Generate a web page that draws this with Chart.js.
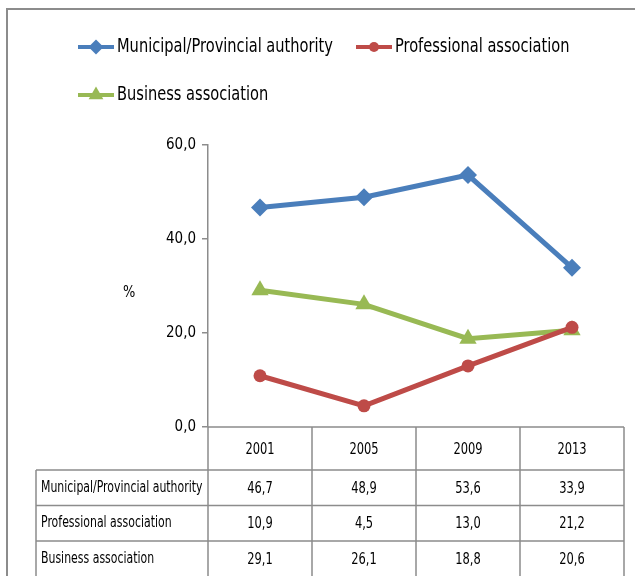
<!DOCTYPE html>
<html>
<head>
<meta charset="utf-8">
<script src="https://cdn.jsdelivr.net/npm/chart.js@4.4.1/dist/chart.umd.min.js"></script>
<style>
  html, body { margin: 0; padding: 0; background: #fff; }
  #wrap { width: 635px; height: 576px; position: relative; }
</style>
</head>
<body>
<div id="wrap"><canvas id="myChart" width="635" height="576"></canvas></div>
<script>
const years = ['2001', '2005', '2009', '2013'];
const municipal = [46.7, 48.9, 53.6, 33.9];
const professional = [10.9, 4.5, 13.0, 21.2];
const business = [29.1, 26.1, 18.8, 20.6];
const yTicks = [0, 20, 40, 60];

const FONT = "'Liberation Sans Narrow', 'DejaVu Sans Condensed', 'Open Sans', sans-serif";
const fmt = v => v.toFixed(1).replace('.', ',');

const series = [
  { label: 'Municipal/Provincial authority', data: municipal, color: '#4A7EBB', style: 'rectRot', r: 9 },
  { label: 'Professional association', data: professional, color: '#BE4B48', style: 'circle', r: 6.5 },
  { label: 'Business association', data: business, color: '#98B954', style: 'triangle', r: 10 }
];

// narrow text, the original uses Calibri
function narrowText(ctx, text, x, y, align, sx) {
  ctx.save();
  ctx.translate(x, y);
  ctx.scale(sx, 1);
  ctx.textAlign = align;
  ctx.fillText(text, 0, 0);
  ctx.restore();
}

// draws legend, frame and the data table under the plot
const extras = {
  id: 'extras',
  afterDraw(chart) {
    const ctx = chart.ctx;
    const area = chart.chartArea;
    const x = chart.scales.x;
    ctx.save();

    // outer frame
    ctx.strokeStyle = '#8c8c8c';
    ctx.lineWidth = 2;
    ctx.beginPath();
    ctx.moveTo(7, 576);
    ctx.lineTo(7, 9);
    ctx.lineTo(635, 9);
    ctx.stroke();

    // legend
    const legendPos = [[78, 47], [356, 47], [78, 95]];
    ctx.font = '19px ' + FONT;
    ctx.textBaseline = 'middle';
    series.forEach((s, i) => {
      const [lx, ly] = legendPos[i];
      ctx.strokeStyle = s.color;
      ctx.lineWidth = 4;
      ctx.beginPath();
      ctx.moveTo(lx, ly);
      ctx.lineTo(lx + 36, ly);
      ctx.stroke();
      ctx.fillStyle = s.color;
      Chart.helpers.drawPoint(ctx, { pointStyle: s.style, radius: s.r - 1.5, borderWidth: 0 }, lx + 18, ly);
      ctx.fillStyle = '#000';
      narrowText(ctx, s.label, lx + 39, ly, 'left', 0.855);
    });

    // axis title
    ctx.font = '16px ' + FONT;
    narrowText(ctx, '%', 123, 293, 'left', 0.9);

    // table
    const step = (area.right - area.left) / years.length;
    const top = area.bottom;
    const headBottom = 470;
    const rowH = 35.5;
    const labelLeft = 36;
    ctx.strokeStyle = '#8c8c8c';
    ctx.lineWidth = 1.5;
    ctx.beginPath();
    ctx.moveTo(area.left, top);
    ctx.lineTo(area.left, 576);
    ctx.moveTo(area.right, top);
    ctx.lineTo(area.right, 576);
    for (let i = 1; i < years.length; i++) {
      ctx.moveTo(area.left + i * step, top);
      ctx.lineTo(area.left + i * step, 576);
    }
    ctx.moveTo(area.left, top);
    ctx.lineTo(area.right, top);
    for (let r = 0; r < series.length; r++) {
      const y = headBottom + r * rowH;
      ctx.moveTo(labelLeft, y);
      ctx.lineTo(area.right, y);
    }
    ctx.moveTo(labelLeft, headBottom);
    ctx.lineTo(labelLeft, 576);
    ctx.stroke();

    ctx.fillStyle = '#000';
    ctx.font = '15px ' + FONT;
    years.forEach((yr, i) => {
      narrowText(ctx, yr, x.getPixelForValue(i), (top + headBottom) / 2 + 2, 'center', 0.85);
    });
    series.forEach((s, r) => {
      const cy = headBottom + r * rowH + rowH / 2;
      narrowText(ctx, s.label, labelLeft + 5, cy, 'left', 0.81);
      s.data.forEach((v, i) => narrowText(ctx, fmt(v), x.getPixelForValue(i), cy + 1, 'center', 0.85));
    });
    ctx.restore();
  }
};

new Chart(document.getElementById('myChart').getContext('2d'), {
  type: 'line',
  data: {
    labels: years,
    datasets: series.map(s => ({
      label: s.label,
      data: s.data,
      borderColor: s.color,
      backgroundColor: s.color,
      borderWidth: 5,
      pointStyle: s.style,
      pointRadius: s.r,
      pointBorderWidth: 0,
      tension: 0
    }))
  },
  options: {
    responsive: false,
    animation: false,
    layout: { padding: { left: 148, top: 145, right: 11, bottom: 149 } },
    plugins: { legend: { display: false }, tooltip: { enabled: false } },
    scales: {
      x: { display: false, offset: true },
      y: {
        min: 0,
        max: 60,
        afterFit: s => { s.width = 60; },
        afterBuildTicks: s => { s.ticks = yTicks.map(v => ({ value: v })); },
        border: { display: true, color: '#8c8c8c', width: 1.5 },
        grid: { drawOnChartArea: false, drawTicks: true, tickLength: 6, color: '#8c8c8c', lineWidth: 1.5 },
        ticks: { color: '#000', padding: 6, font: { family: FONT, size: 15 }, callback: v => fmt(v) }
      }
    }
  },
  plugins: [extras]
});
</script>
</body>
</html>
